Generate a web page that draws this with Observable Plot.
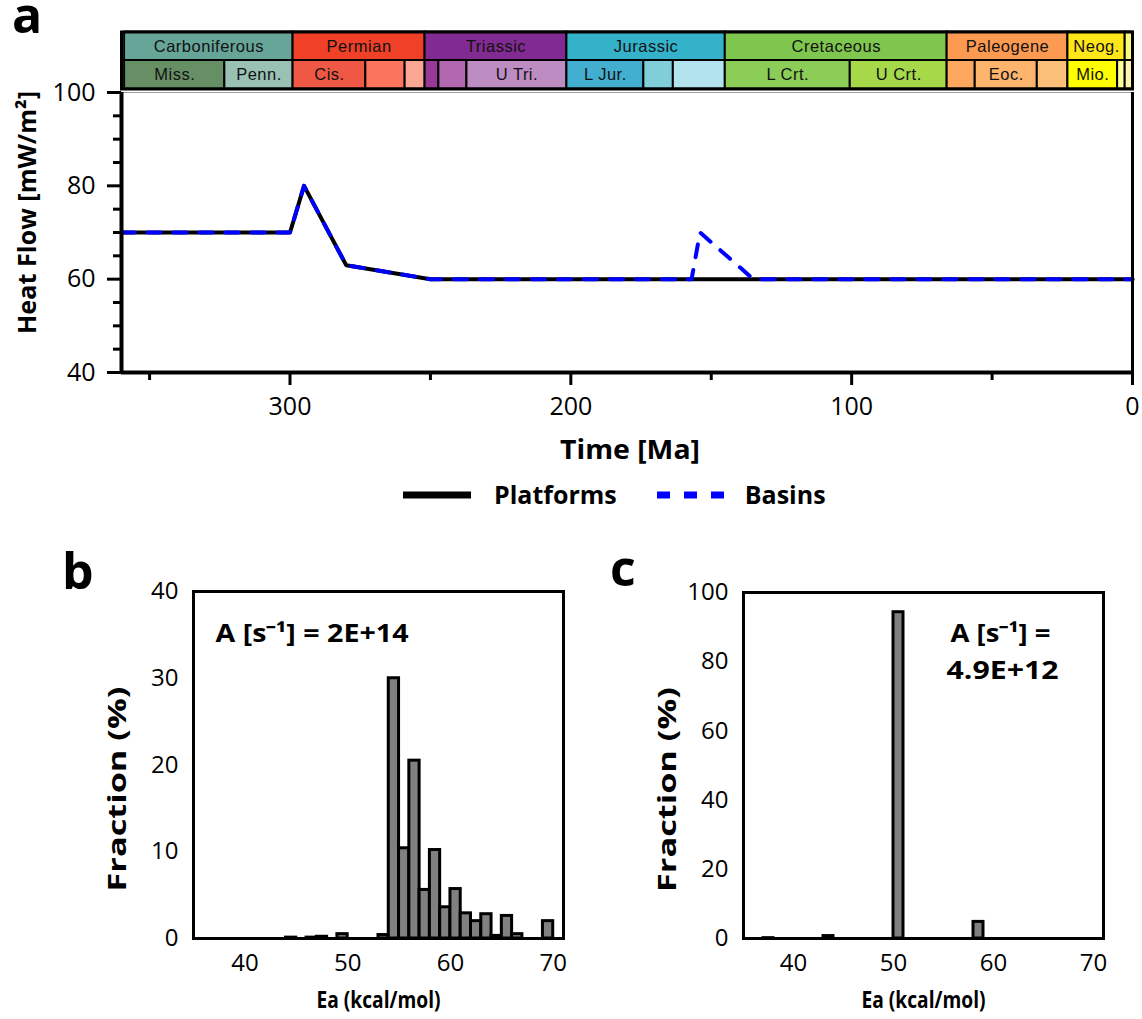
<!DOCTYPE html>
<html>
<head>
<meta charset="utf-8">
<script src="https://cdn.jsdelivr.net/npm/d3@7"></script>
<script src="https://cdn.jsdelivr.net/npm/@observablehq/plot@0.6"></script>
<style>
  body { margin: 0; background: #fff; }
  #fig { position: relative; width: 1142px; height: 1019px; font-family: "Open Sans", sans-serif; color: #000; }
  #fig > .pos { position: absolute; }
  .letter { font-weight: 700; font-size: 50px; line-height: 0.5; }
  #legend { display: flex; align-items: center; font-weight: 700; font-size: 25px; line-height: 1; }
</style>
</head>
<body>
<div id="fig"></div>
<script>
// ---------- (a) geological time scale ----------
const periodKeys   = ["Carboniferous", "Permian", "Triassic", "Jurassic", "Cretaceous", "Paleogene", "Neogene", "Quaternary"];
const periodLabels = ["Carboniferous", "Permian", "Triassic", "Jurassic", "Cretaceous", "Paleogene", "Neog.", ""];
const periodStart  = [358.9, 298.9, 251.9, 201.4, 145.0, 66.0, 23.0, 2.6];
const periodEnd    = [298.9, 251.9, 201.4, 145.0, 66.0, 23.0, 2.6, 0];
const periodColors = ["#67A599", "#F04028", "#812B92", "#34B2C9", "#7FC64E", "#FD9A52", "#FFE619", "#F9F97F"];

const epochKeys   = ["Mississippian", "Pennsylvanian", "Cisuralian", "Guadalupian", "Lopingian",
                     "Early Triassic", "Middle Triassic", "Late Triassic",
                     "Early Jurassic", "Middle Jurassic", "Late Jurassic",
                     "Early Cretaceous", "Late Cretaceous",
                     "Paleocene", "Eocene", "Oligocene", "Miocene", "Pliocene", "Pleistocene"];
const epochLabels = ["Miss.", "Penn.", "Cis.", "", "", "", "", "U Tri.", "L Jur.", "", "",
                     "L Crt.", "U Crt.", "", "Eoc.", "", "Mio.", "", ""];
const epochStart  = [358.9, 323.2, 298.9, 273.0, 259.0, 251.9, 247.0, 237.0, 201.4, 174.0, 163.5,
                     145.0, 100.5, 66.0, 56.0, 33.9, 23.0, 5.3, 2.6];
const epochEnd    = [323.2, 298.9, 273.0, 259.0, 251.9, 247.0, 237.0, 201.4, 174.0, 163.5, 145.0,
                     100.5, 66.0, 56.0, 33.9, 23.0, 5.3, 2.6, 0];
const epochColors = ["#678F66", "#99C2B5", "#EF5845", "#FB745C", "#FBA794", "#983999", "#B168B1", "#BD8CC3",
                     "#42AED0", "#80CFD8", "#B3E3EE", "#8CCD57", "#A6D84A", "#FDA75F", "#FDB46C", "#FDC07A",
                     "#FFFF00", "#FFFF99", "#FFF2AE"];

// ---------- (a) heat flow histories ----------
const platformTime = [360, 300, 295, 280, 265, 250, 0];
const platformHF   = [70, 70, 80, 63, 61.5, 60, 60];
const basinTime    = [360, 300, 295, 280, 265, 250, 157, 154, 135, 0];
const basinHF      = [70, 70, 80, 63, 61.5, 60, 60, 70, 60, 60];

const timeDomain  = [360, 0];
const heatDomain  = [40, 100];
const timeMajor   = [300, 200, 100, 0];
const timeMinor   = [350, 250, 150, 50];
const heatMajor   = [40, 60, 80, 100];
const heatMinor   = [45, 50, 55, 65, 70, 75, 85, 90, 95];

// ---------- (b) activation energy distribution, A = 2E+14 s^-1 ----------
const eaB   = [44, 46, 47, 49, 53, 54, 55, 56, 57, 58, 59, 60, 61, 62, 63, 64, 65, 66, 69];
const fracB = [0.1, 0.1, 0.2, 0.5, 0.4, 30.0, 10.4, 20.5, 5.6, 10.2, 3.6, 5.7, 2.9, 2.0, 2.8, 0.3, 2.6, 0.5, 2.0];
const fracBTicks = [0, 10, 20, 30, 40];

// ---------- (c) activation energy distribution, A = 4.9E+12 s^-1 ----------
const eaC   = [37, 43, 50, 58];
const fracC = [0.1, 0.7, 94.3, 4.8];
const fracCTicks = [0, 20, 40, 60, 80, 100];

const eaDomain = [35, 71];
const eaTicks  = [40, 50, 60, 70];
const binWidth = 1;

const FONT = "'Open Sans', sans-serif";
const fig = document.getElementById("fig");
const place = (el, left, top) => { el.classList.add("pos"); el.style.left = left + "px"; el.style.top = top + "px"; fig.appendChild(el); return el; };

// fit a title to a given drawn length
function fitText(svg, content, length) {
  svg.querySelectorAll("text").forEach(t => {
    if (t.textContent === content) {
      t.setAttribute("textLength", length);
      t.setAttribute("lengthAdjust", "spacingAndGlyphs");
    }
  });
}

// ----- time scale bar -----
const periods = periodKeys.map((k, i) => ({key: k, label: periodLabels[i], start: periodStart[i], end: periodEnd[i]}));
const epochs  = epochKeys.map((k, i) => ({key: k, label: epochLabels[i], start: epochStart[i], end: epochEnd[i]}));

const timescale = Plot.plot({
  width: 1142, height: 60,
  marginLeft: 121, marginRight: 10, marginTop: 1.5, marginBottom: 1.5,
  style: {fontFamily: "'Liberation Sans', Arial, sans-serif", background: "transparent", overflow: "visible"},
  x: {domain: timeDomain, axis: null},
  y: {domain: [0, 2], axis: null},
  color: {domain: [...periodKeys, ...epochKeys], range: [...periodColors, ...epochColors]},
  marks: [
    Plot.rect(periods, {x1: "start", x2: "end", y1: 1, y2: 2, fill: "key", stroke: "black", strokeWidth: 2}),
    Plot.rect(epochs,  {x1: "start", x2: "end", y1: 0, y2: 1, fill: "key", stroke: "black", strokeWidth: 2}),
    Plot.text(periods, {x: d => (d.start + d.end) / 2, y: 1.5, text: "label", fontSize: 16.5, fill: "#111"}),
    Plot.text(epochs,  {x: d => (d.start + d.end) / 2, y: 0.5, text: "label", fontSize: 16.5, fill: "#111"}),
    Plot.frame({stroke: "black", strokeWidth: 3})
  ]
});
timescale.querySelectorAll("text").forEach(t => t.style.letterSpacing = "0.5px");
place(timescale, 0, 30);

// ----- panel (a): heat flow -----
const platformRows = platformTime.map((t, i) => ({time: t, hf: platformHF[i]}));
const basinRows    = basinTime.map((t, i) => ({time: t, hf: basinHF[i]}));

const panelA = Plot.plot({
  width: 1142, height: 470,
  marginLeft: 121, marginRight: 10, marginTop: 92, marginBottom: 98,
  style: {fontFamily: FONT, fontSize: "25px", color: "black", background: "transparent", overflow: "visible"},
  x: {domain: timeDomain},
  y: {domain: heatDomain},
  marks: [
    Plot.frame({stroke: "#a0a0a0", strokeWidth: 1}),
    Plot.line(platformRows, {x: "time", y: "hf", stroke: "black", strokeWidth: 4}),
    Plot.line(basinRows, {x: "time", y: "hf", stroke: "#0000ff", strokeWidth: 4, strokeDasharray: "13,13"}),
    Plot.ruleX([timeDomain[1]], {stroke: "black", strokeWidth: 3}),
    Plot.ruleX([timeDomain[0]], {stroke: "black", strokeWidth: 4}),
    Plot.ruleY([heatDomain[0]], {stroke: "black", strokeWidth: 4}),
    Plot.axisX({ticks: timeMajor, tickSize: 13, tickPadding: 12, strokeWidth: 3, fontSize: 25, label: null}),
    Plot.axisX({ticks: timeMinor, tickSize: 8, strokeWidth: 3, tickFormat: () => "", label: null}),
    Plot.axisY({ticks: heatMajor, tickSize: 14, tickPadding: 12, strokeWidth: 3, fontSize: 25, label: null}),
    Plot.axisY({ticks: heatMinor, tickSize: 8, strokeWidth: 3, tickFormat: () => "", label: null}),
    Plot.text(["Time [Ma]"], {frameAnchor: "bottom", dy: 78, dx: 3, textAnchor: "middle", lineAnchor: "middle", fontWeight: 700, fontSize: 26}),
    Plot.text(["Heat Flow [mW/m²]"], {frameAnchor: "left", dx: -94, dy: -20, rotate: -90, textAnchor: "middle", lineAnchor: "middle", fontWeight: 700, fontSize: 25})
  ]
});
fitText(panelA, "Time [Ma]", 140);
fitText(panelA, "Heat Flow [mW/m²]", 243);
place(panelA, 0, 0);

// legend for panel (a)
const legend = document.createElement("div");
legend.id = "legend";
legend.innerHTML =
  `<svg width="68" height="10"><line x1="0" x2="68" y1="5" y2="5" stroke="black" stroke-width="7"/></svg>` +
  `<span style="margin-left:23px">Platforms</span>` +
  `<svg width="70" height="10" style="margin-left:40px"><line x1="0" x2="70" y1="5" y2="5" stroke="#0000ff" stroke-width="7" stroke-dasharray="13,14"/></svg>` +
  `<span style="margin-left:18px">Basins</span>`;
place(legend, 403, 482);

// ----- panels (b) and (c): Ea distributions -----
function eaPanel({ea, frac, yTicks, yMax, width, marginLeft, marginRight, marginTop, notes}) {
  const rows = ea.map((e, i) => ({ea: e, frac: frac[i]}));
  const svg = Plot.plot({
    width, height: 479,
    marginLeft, marginRight, marginTop, marginBottom: 81,
    style: {fontFamily: FONT, fontSize: "24px", color: "black", background: "transparent", overflow: "visible"},
    x: {domain: eaDomain},
    y: {domain: [0, yMax]},
    marks: [
      Plot.rect(rows, {x1: "ea", x2: d => d.ea + binWidth, y1: 0, y2: "frac", fill: "#808080", stroke: "black", strokeWidth: 3}),
      Plot.frame({stroke: "black", strokeWidth: 3}),
      Plot.axisX({ticks: eaTicks, tickSize: 0, tickPadding: 15, fontSize: 24, label: null}),
      Plot.axisY({ticks: yTicks, tickSize: 0, tickPadding: 15, fontSize: 24, label: null}),
      Plot.text(["Ea (kcal/mol)"], {frameAnchor: "bottom", dy: 62, textAnchor: "middle", lineAnchor: "middle", fontWeight: 700, fontSize: 23}),
      Plot.text(["Fraction (%)"], {frameAnchor: "left", dx: -76, dy: 24, rotate: -90, textAnchor: "middle", lineAnchor: "middle", fontWeight: 700, fontSize: 25}),
      ...notes.map(n => Plot.text([n.text], {frameAnchor: "top-left", dx: n.dx, dy: n.dy, textAnchor: n.anchor, lineAnchor: "middle", fontWeight: 700, fontSize: 25}))
    ]
  });
  fitText(svg, "Ea (kcal/mol)", 124);
  fitText(svg, "Fraction (%)", 205);
  notes.forEach(n => fitText(svg, n.text, n.length));
  return svg;
}

place(eaPanel({ea: eaB, frac: fracB, yTicks: fracBTicks, yMax: 40, width: 590, marginLeft: 193, marginRight: 27, marginTop: 51,
               notes: [{text: "A [s⁻¹] = 2E+14", dx: 22, dy: 42, anchor: "start", length: 193}]}), 0, 540);
place(eaPanel({ea: eaC, frac: fracC, yTicks: fracCTicks, yMax: 100, width: 542, marginLeft: 143, marginRight: 39, marginTop: 52,
               notes: [{text: "A [s⁻¹] =", dx: 257, dy: 41, anchor: "middle", length: 100},
                       {text: "4.9E+12", dx: 259, dy: 78, anchor: "middle", length: 112}]}), 600, 540);

// panel letters
[["a", 12, 2], ["b", 62, 558], ["c", 610, 555]].forEach(([t, x, y]) => {
  const d = document.createElement("div");
  d.className = "letter";
  d.textContent = t;
  place(d, x, y);
});
</script>
</body>
</html>
